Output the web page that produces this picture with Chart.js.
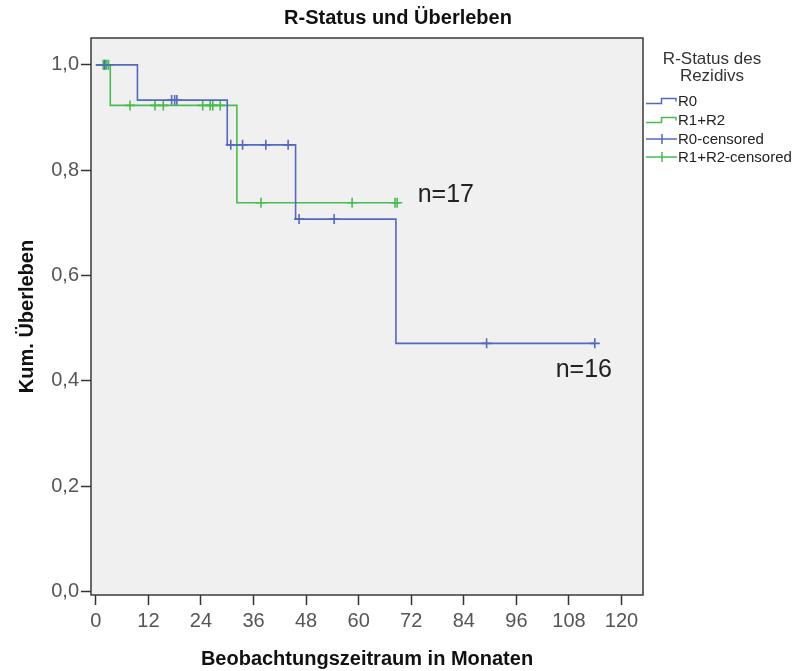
<!DOCTYPE html>
<html>
<head>
<meta charset="utf-8">
<script src="https://cdn.jsdelivr.net/npm/chart.js@4"></script>
<style>
    html, body { margin: 0; padding: 0; background: #ffffff; }
    #wrap { width: 795px; height: 671px; }
</style>
</head>
<body>
<div id="wrap"><canvas id="myChart" width="795" height="671"></canvas></div>
<script>
// data ===============================================================
const r0Times = [0, 9.5, 30.0, 45.6, 68.5, 113.9];
const r0Surv = [1.0, 0.933, 0.848, 0.707, 0.471, 0.471];
const r12Times = [0, 3.3, 32.2, 68.8];
const r12Surv = [1.0, 0.923, 0.738, 0.738];

const r0CensTimes = [2.0, 17.3, 18.0, 18.5, 30.8, 33.5, 38.8, 43.9, 46.4, 54.4, 89.2, 113.9];
const r0CensSurv = [1.0, 0.933, 0.933, 0.933, 0.848, 0.848, 0.848, 0.848, 0.707, 0.707, 0.471, 0.471];
const r12CensTimes = [1.7, 2.1, 2.5, 2.9, 7.8, 13.5, 15.4, 24.4, 26.1, 26.7, 28.4, 37.7, 58.5, 68.3, 68.8];
const r12CensSurv = [1.0, 1.0, 1.0, 1.0, 0.923, 0.923, 0.923, 0.923, 0.923, 0.923, 0.923, 0.738, 0.738, 0.738, 0.738];

const xTicks = [0, 12, 24, 36, 48, 60, 72, 84, 96, 108, 120];
const yTicks = [0, 0.2, 0.4, 0.6, 0.8, 1.0];

const seriesNames = ["R0", "R1+R2", "R0-censored", "R1+R2-censored"];
const nLabels = ["n=17", "n=16"];
const nLabelX = [79.9, 111.4];
const nLabelY = [0.752, 0.42];

const blue = "rgb(84, 104, 190)";
const green = "rgb(72, 188, 80)";

function pts(xs, ys) {
    let out = [];
    for (let i = 0; i < xs.length; i++) { out.push({ x: xs[i], y: ys[i] }); }
    return out;
}

// plugins ===============================================================
function plotFrame(fill, stroke) {
    return {
        id: 'plotFrame',
        beforeDatasetsDraw(chart) {
            const { ctx, chartArea: { left, top, width, height } } = chart;
            ctx.save();
            ctx.fillStyle = fill;
            ctx.fillRect(left, top, width, height);
            ctx.restore();
        },
        afterDatasetsDraw(chart) {
            const { ctx, chartArea: { left, top, width, height } } = chart;
            ctx.save();
            ctx.strokeStyle = stroke;
            ctx.lineWidth = 1.5;
            ctx.strokeRect(left, top, width, height);
            ctx.restore();
        }
    };
}

const extras = {
    id: 'extras',
    afterDraw(chart) {
        const ctx = chart.ctx;
        const xs = chart.scales.x, ys = chart.scales.y;
        ctx.save();
        // title
        ctx.fillStyle = "#111";
        ctx.font = "bold 20px 'Liberation Sans', Arial, sans-serif";
        ctx.textAlign = "center";
        ctx.textBaseline = "middle";
        ctx.fillText("R-Status und Überleben", 398, 18);

        // n labels
        ctx.font = "25px 'Liberation Sans', Arial, sans-serif";
        ctx.fillStyle = "#222";
        for (let i = 0; i < nLabels.length; i++) {
            ctx.fillText(nLabels[i], xs.getPixelForValue(nLabelX[i]), ys.getPixelForValue(nLabelY[i]));
        }

        // legend
        ctx.fillStyle = "#333";
        ctx.font = "17px 'Liberation Sans', Arial, sans-serif";
        ctx.fillText("R-Status des", 712, 59);
        ctx.fillText("Rezidivs", 712, 76);
        const rows = [101, 120, 139, 157];
        const cols = [blue, green, blue, green];
        ctx.textAlign = "left";
        ctx.font = "15px 'Liberation Sans', Arial, sans-serif";
        for (let i = 0; i < 4; i++) {
            let y = rows[i];
            ctx.strokeStyle = cols[i];
            ctx.lineWidth = 1.5;
            ctx.beginPath();
            if (i < 2) {
                ctx.moveTo(646, y + 2.5);
                ctx.lineTo(661.5, y + 2.5);
                ctx.lineTo(661.5, y - 2.5);
                ctx.lineTo(676, y - 2.5);
                ctx.lineTo(676, y + 0.5);
            } else {
                ctx.moveTo(646, y);
                ctx.lineTo(677, y);
                ctx.moveTo(662, y - 5);
                ctx.lineTo(662, y + 5);
            }
            ctx.stroke();
            ctx.fillStyle = "#222";
            ctx.fillText(seriesNames[i], 678, y + 1);
        }
        ctx.restore();
    }
};

// chart ===============================================================
function plot_km() {
    let ctx = document.getElementById("myChart");
    let lineSet = (label, data, color) => ({
        label: label,
        data: data,
        borderColor: color,
        backgroundColor: color,
        borderWidth: 1.6,
        stepped: true,
        pointRadius: 0,
        fill: false,
    });
    let censSet = (label, data, color) => ({
        label: label,
        data: data,
        borderColor: color,
        backgroundColor: color,
        showLine: false,
        pointStyle: 'cross',
        pointRadius: 5,
        pointBorderWidth: 1.6,
    });
    let data = {
        datasets: [
            lineSet(seriesNames[0], pts(r0Times, r0Surv), blue),
            lineSet(seriesNames[1], pts(r12Times, r12Surv), green),
            censSet(seriesNames[2], pts(r0CensTimes, r0CensSurv), blue),
            censSet(seriesNames[3], pts(r12CensTimes, r12CensSurv), green),
        ]
    };
    let tickFont = { family: "'Liberation Sans Narrow', 'Liberation Sans', Arial, sans-serif", size: 20 };
    let options = {
        responsive: false,
        animation: false,
        layout: { padding: { top: 38, right: 152, left: 0, bottom: 0 } },
        plugins: {
            legend: { display: false },
            tooltip: { enabled: false },
        },
        scales: {
            x: {
                type: 'linear',
                min: -1.1,
                max: 124.9,
                afterBuildTicks: (s) => { s.ticks = xTicks.map(v => ({ value: v })); },
                afterFit: (s) => { s.height = 76; },
                grid: { drawOnChartArea: false, drawTicks: true, tickLength: 10, tickColor: "#333", tickWidth: 1.5 },
                border: { display: false },
                ticks: { font: tickFont, color: "#555", padding: 4, maxRotation: 0, autoSkip: false },
                title: {
                    display: true,
                    text: "Beobachtungszeitraum in Monaten",
                    font: { family: "'Liberation Sans', Arial, sans-serif", size: 20, weight: "bold" },
                    color: "#111",
                    padding: { top: 0, bottom: 0 },
                },
            },
            y: {
                type: 'linear',
                min: -0.007,
                max: 1.051,
                afterBuildTicks: (s) => { s.ticks = yTicks.map(v => ({ value: v })); },
                afterFit: (s) => { s.width = 91; },
                grid: { drawOnChartArea: false, drawTicks: true, tickLength: 10, tickColor: "#333", tickWidth: 1.5 },
                border: { display: false },
                ticks: {
                    font: tickFont, color: "#555", padding: 2,
                    callback: (v) => v.toFixed(1).replace(".", ","),
                },
                title: {
                    display: true,
                    text: "Kum. Überleben",
                    font: { family: "'Liberation Sans', Arial, sans-serif", size: 20, weight: "bold" },
                    color: "#111",
                    padding: { top: 15, bottom: 0 },
                },
            },
        },
    };
    new Chart(ctx, {
        type: "line",
        data: data,
        options: options,
        plugins: [plotFrame("#f0f0f0", "#3a3a3a"), extras]
    });
}

plot_km();
</script>
</body>
</html>
